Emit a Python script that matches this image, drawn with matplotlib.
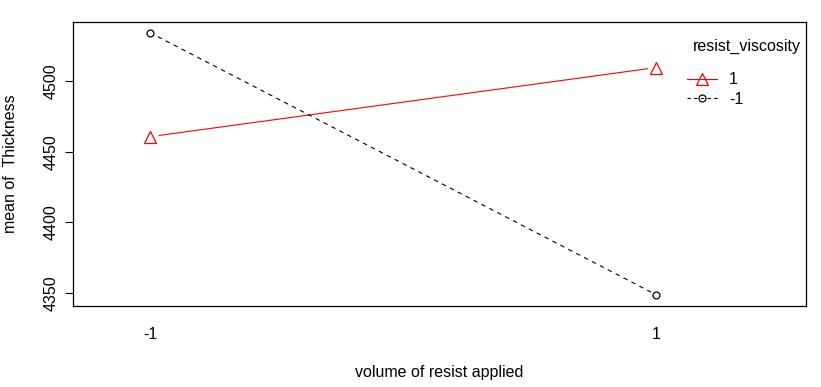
import matplotlib
matplotlib.use("Agg")
import matplotlib.pyplot as plt
from matplotlib.lines import Line2D

plt.rcParams['font.family'] = ['Liberation Sans', 'DejaVu Sans']

x_levels = ["-1", "1"]
series_names = ["1", "-1"]
thickness_pos = [4460.6, 4509.6]   # resist_viscosity = 1
thickness_neg = [4534.4, 4348.6]   # resist_viscosity = -1
y_ticks = [4350, 4400, 4450, 4500]

W, H = 821, 387
fig = plt.figure(figsize=(W/100, H/100), dpi=100)
ax = fig.add_axes([73/W, 1-306/H, (806-73)/W, (306-22)/H])

xs = [1, 2]
fs = 11.5
styles = [
    dict(vals=thickness_pos, color='red', ls='-', marker='^', ms=8),
    dict(vals=thickness_neg, color='black', ls=(0, (4, 4)), marker='o', ms=5),
]
for st in styles:
    ax.plot(xs, st['vals'], color=st['color'], linestyle=st['ls'], lw=0.8, zorder=2)
    ax.plot(xs, st['vals'], linestyle='none', marker='o', ms=st['ms'] + 4,
            markerfacecolor='white', markeredgecolor='none', zorder=3)
    ax.plot(xs, st['vals'], linestyle='none', marker=st['marker'], ms=st['ms'],
            markerfacecolor='none', markeredgecolor=st['color'], mew=0.9, zorder=4)

ax.set_xlim(0.848, 2.296)
ax.set_ylim(4340.6, 4541.9)
ax.set_xticks(xs)
ax.set_xticklabels(x_levels, fontsize=fs)
ax.tick_params(axis='x', length=0, pad=15)
ax.set_yticks(y_ticks)
ax.set_yticklabels([str(v) for v in y_ticks], fontsize=fs, rotation=90, va='center')
ax.tick_params(axis='y', length=6, width=0.8, pad=4)
for s in ax.spines.values():
    s.set_linewidth(0.9)

ax.set_xlabel("volume of resist applied", fontsize=fs, labelpad=17)
ax.set_ylabel("mean of  Thickness", fontsize=fs, labelpad=19)

# manual legend (figure pixel coordinates, top-left origin)
def fx(px):
    return px / W

def fy(py):
    return 1 - py / H

fig.text(fx(801), fy(46), "resist_viscosity", fontsize=fs, ha='right', va='center')
leg_styles = [
    dict(color='red', ls='-', marker='^', ms=8, y=79),
    dict(color='black', ls=(0, (3, 3)), marker='o', ms=5, y=98),
]
for name, st in zip(series_names, leg_styles):
    fig.add_artist(Line2D([fx(687), fx(717)], [fy(st['y']), fy(st['y'])],
                          color=st['color'], linestyle=st['ls'], lw=0.8))
    fig.add_artist(Line2D([fx(702)], [fy(st['y'])], linestyle='none',
                          marker=st['marker'], ms=st['ms'], markerfacecolor='none',
                          markeredgecolor=st['color'], mew=0.9))
    fig.text(fx(729), fy(st['y'] + 1), name, fontsize=fs, ha='left', va='center')

fig.savefig("out.png", dpi=100)
